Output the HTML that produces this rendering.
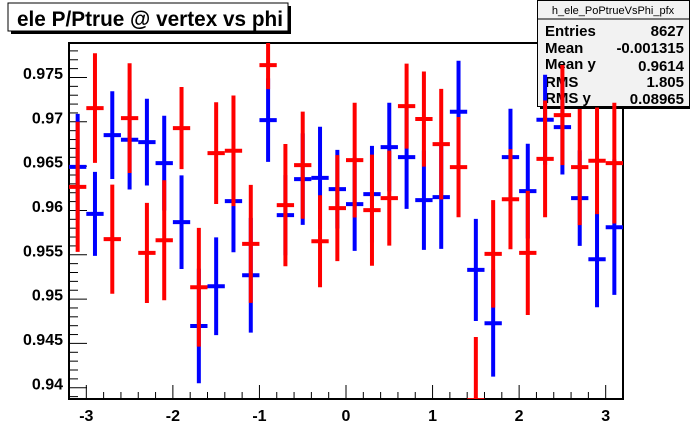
<!DOCTYPE html>
<html><head><meta charset="utf-8"><style>
html,body{margin:0;padding:0;background:#fff;}
svg{display:block;font-family:"Liberation Sans",Arial,sans-serif;}
</style></head><body>
<svg id="c" width="692" height="444" viewBox="0 0 692 444" xmlns="http://www.w3.org/2000/svg">
<rect x="0" y="0" width="692" height="444" fill="#ffffff"/>
<g id="frame-g"></g>
<g>
<rect x="11" y="6" width="280" height="28" fill="#000"/>
<rect x="8" y="3" width="280" height="28" fill="#fff" stroke="#000" stroke-width="1"/>
<text x="17" y="26" font-size="21.5" font-weight="bold" textLength="266" lengthAdjust="spacingAndGlyphs">ele P/Ptrue @ vertex vs phi</text>
</g>
<g>
<rect x="540" y="3" width="150" height="106" fill="#000"/>
<rect x="537.5" y="0.5" width="152" height="106" fill="#f2f2f2" stroke="#000" stroke-width="1"/>
<line x1="537.5" y1="19" x2="689.5" y2="19" stroke="#000"/>
<text x="613" y="14" font-size="11" text-anchor="middle">h_ele_PoPtrueVsPhi_pfx</text>
<text x="545" y="36" font-size="15" font-weight="bold">Entries</text><text x="684" y="36" font-size="15" font-weight="bold" text-anchor="end">8627</text>
<text x="545" y="53" font-size="15" font-weight="bold">Mean</text><text x="684" y="53" font-size="15" font-weight="bold" text-anchor="end">-0.001315</text>
<text x="545" y="69" font-size="15" font-weight="bold">Mean y</text><text x="684" y="71" font-size="15" font-weight="bold" text-anchor="end">0.9614</text>
<text x="545" y="87" font-size="15" font-weight="bold">RMS</text><text x="684" y="87" font-size="15" font-weight="bold" text-anchor="end">1.805</text>
<text x="545" y="103" font-size="15" font-weight="bold">RMS y</text><text x="684" y="104" font-size="15" font-weight="bold" text-anchor="end">0.08965</text>
</g>
<g id="pts2"></g>
</svg>
<script>
const binCenters = [-3.1,-2.9,-2.7,-2.5,-2.3,-2.1,-1.9,-1.7,-1.5,-1.3,-1.1,-0.9,-0.7,-0.5,-0.3,-0.1,0.1,0.3,0.5,0.7,0.9,1.1,1.3,1.5,1.7,1.9,2.1,2.3,2.5,2.7,2.9,3.1];
const redValues = [0.96216,0.97105,0.95626,0.96992,0.95471,0.95614,0.96879,0.95084,0.96597,0.96623,0.95573,0.97590,0.96010,0.96461,0.95603,0.95976,0.96518,0.95953,0.96089,0.97127,0.96981,0.96698,0.96439,0.93811,0.95460,0.96077,0.95471,0.96532,0.97026,0.96439,0.96510,0.96484];
const redErrors = [0.00734,0.00619,0.00615,0.00619,0.00565,0.00677,0.00463,0.0067,0.00574,0.00624,0.00666,0.00271,0.00689,0.00604,0.00519,0.00598,0.00647,0.00627,0.00536,0.0048,0.00536,0.00624,0.00565,0.00711,0.00606,0.00565,0.007,0.00658,0.00565,0.00655,0.00602,0.00681];
const blueValues = [0.96442,0.95911,0.96800,0.96747,0.96721,0.96484,0.95818,0.94647,0.95095,0.96055,0.95219,0.96969,0.95897,0.96303,0.96318,0.96190,0.96021,0.96134,0.96665,0.96552,0.96066,0.96100,0.97063,0.95279,0.94677,0.96552,0.96168,0.96973,0.96890,0.96089,0.95400,0.95761];
const blueErrors = [0.00598,0.00474,0.00495,0.00561,0.00489,0.00534,0.00528,0.00647,0.00551,0.00576,0.00647,0.00471,0.00452,0.00516,0.00576,0.00444,0.00527,0.00545,0.005,0.00584,0.00561,0.00584,0.00576,0.00576,0.00602,0.00545,0.00534,0.00508,0.00534,0.00539,0.00542,0.00764];
const yTicks = [0.94,0.945,0.95,0.955,0.96,0.965,0.97,0.975];
const yTickLabels = ["0.94","0.945","0.95","0.955","0.96","0.965","0.97","0.975"];
const xTicks = [-3,-2,-1,0,1,2,3];
const xTickLabels = ["-3","-2","-1","0","1","2","3"];

const NS="http://www.w3.org/2000/svg";
const L=69,R=623,T=43,B=399;
const xMin=-3.2,xMax=3.2,yMin=0.93823,yMax=0.97839;
const xs=v=>L+(v-xMin)/(xMax-xMin)*(R-L);
const ys=v=>B-(v-yMin)/(yMax-yMin)*(B-T);
function mk(tag,attrs,parent){const e=document.createElementNS(NS,tag);for(const k in attrs)e.setAttribute(k,attrs[k]);parent.appendChild(e);return e;}
const fg=document.getElementById('frame-g');
const fr=mk('rect',{x:L,y:T,width:R-L,height:B-T,fill:'none',stroke:'#000','stroke-width':2},fg);


for(let v=0.9385;v<=0.978;v+=0.001){
  const major=Math.abs(Math.round(v*1000)%5)===0;
  mk('line',{x1:L,y1:ys(v),x2:L+(major?18:9),y2:ys(v),stroke:'#000','stroke-width':1},fg);
}
yTicks.forEach((v,i)=>{
  const t=mk('text',{x:L-6,y:ys(v)+6,'font-size':16,'font-weight':'bold','text-anchor':'end'},fg);
  t.textContent=yTickLabels[i];
  
  
});
for(let k=-32;k<=32;k+=2){
  const v=k/10;const major=(k%10===0);
  mk('line',{x1:xs(v),y1:B,x2:xs(v),y2:B-(major?14:7),stroke:'#000','stroke-width':1},fg);
}
xTicks.forEach((v,i)=>{
  const t=mk('text',{x:xs(v),y:B+22,'font-size':16,'font-weight':'bold','text-anchor':'middle'},fg);
  t.textContent=xTickLabels[i];
  
  
});
const defs=mk('defs',{},fg);
const cp=mk('clipPath',{id:'clip'},defs);
mk('rect',{x:L,y:T,width:R-L,height:B-T},cp);
function series(vals,errs,color,name,parent){
  const g=mk('g',{'clip-path':'url(#clip)'},parent);
  
  
  const hw=(xs(0.2)-xs(0))/2;
  vals.forEach((v,i)=>{
    const x=xs(binCenters[i]);
    const p=mk('g',{},g);
    
    
    mk('line',{x1:x,y1:ys(v+errs[i]),x2:x,y2:ys(v-errs[i]),stroke:color,'stroke-width':4},p);
    mk('line',{x1:x-hw,y1:ys(v),x2:x+hw,y2:ys(v),stroke:color,'stroke-width':4},p);
  });
}
const pts=document.getElementById('pts2');
series(blueValues,blueErrors,'#0000ff','blue',pts);
series(redValues,redErrors,'#ff0000','red',pts);
</script>
</body></html>
